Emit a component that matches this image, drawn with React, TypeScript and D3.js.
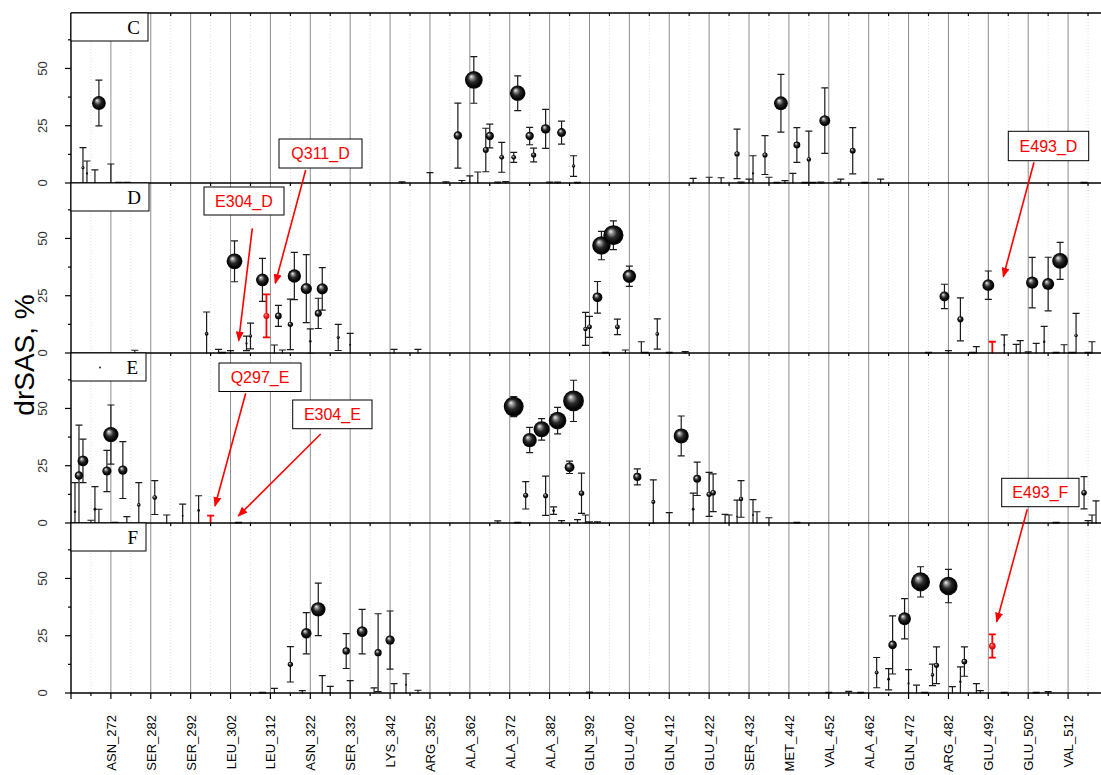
import React from "react";
import * as d3 from "d3";

const WIDTH = 1101;
const HEIGHT = 775;
const PLOT = { left: 71, right: 1100, top: 13, panelHeight: 170 };

// x axis: residue number, labelled every 10 residues
const tickResidues = [272, 282, 292, 302, 312, 322, 332, 342, 352, 362, 372, 382, 392, 402, 412, 422, 432, 442, 452, 462, 472, 482, 492, 502, 512];
const tickNames = ["ASN_272", "SER_282", "SER_292", "LEU_302", "LEU_312", "ASN_322", "SER_332", "LYS_342", "ARG_352", "ALA_362", "ALA_372", "ALA_382", "GLN_392", "GLU_402", "GLN_412", "GLU_422", "SER_432", "MET_442", "VAL_452", "ALA_462", "GLN_472", "ARG_482", "GLU_492", "GLU_502", "VAL_512"];

const chainNames = ["C", "D", "E", "F"];

// chain C
const residuesC = [265, 266, 268, 269, 272, 274, 276, 345, 352, 356, 359, 360, 362, 363, 364, 366, 367, 369, 370, 371, 373, 374, 377, 378, 381, 382, 384, 385, 388, 389, 418, 422, 425, 429, 430, 432, 433, 436, 437, 439, 440, 441, 443, 444, 446, 447, 448, 450, 451, 454, 455, 458, 461, 465, 516];
const valuesC = [6.7, 4.2, 0.3, 34.9, 0, 0, 0, 0, 0.3, 0, 20.7, 0.3, 0.5, 45, 0.5, 14.4, 20.5, 0, 11.2, 0, 11.2, 39.2, 20.5, 12.2, 23.6, 0, 0, 22, 7.4, 0, 0, 0, 0, 12.7, 0, 0, 4.2, 12.2, 0, 0, 34.8, 0, 0.3, 16.6, 0, 10.3, 0, 0, 27.2, 0, 0, 14.1, 0, 0, 0];
const errorsC = [8.7, 5.4, 5.4, 10, 8.3, 0.3, 0.3, 0.5, 4.2, 0.5, 14.2, 0.8, 2.6, 10.2, 4.3, 9.5, 5.2, 0.4, 6.5, 0.6, 2.2, 7.6, 3.8, 3, 8.5, 0.4, 0.4, 5, 4.5, 0.3, 2, 2.5, 2.3, 10.8, 0.4, 1.7, 7.7, 8.5, 2.5, 0.3, 12.6, 1, 3.9, 7.6, 0.3, 12.3, 0.3, 0.4, 14.3, 0.4, 1.7, 10.1, 0.3, 1.7, 0.3];

// chain D
const residuesD = [278, 296, 299, 300, 302, 303, 306, 307, 310, 313, 314, 315, 317, 318, 321, 322, 324, 325, 329, 332, 343, 349, 391, 392, 394, 395, 396, 398, 399, 401, 402, 405, 406, 409, 412, 416, 477, 481, 482, 485, 488, 489, 492, 496, 499, 500, 502, 503, 504, 506, 507, 509, 510, 511, 513, 514, 517, 518];
const valuesD = [0, 8.4, 0, 0, 0, 40, 4.2, 7.4, 31.9, 0, 16.2, 0, 12.5, 33.6, 28.1, 5.1, 17.3, 28, 6.8, 3.6, 0, 0, 10.5, 11.4, 24.3, 46.9, 0, 51.4, 11.4, 0, 33.5, 0.5, 0, 8.3, 0, 0, 0, 24.7, 0, 14.7, 0, 0, 29.6, 3.5, 0, 0, 0, 30.7, 0, 4.9, 30.1, 0, 40.2, 0, 0, 7.6, 0, 0];
const errorsD = [1.2, 9.5, 1.6, 0.3, 1, 8.9, 3.2, 5.6, 9.4, 3.5, 4.6, 1.3, 11, 10.3, 14.8, 5.4, 6.6, 9.3, 5.7, 5, 1.6, 1.6, 7.2, 4.6, 6.9, 6.2, 0.3, 6.3, 3.4, 1.3, 4.4, 4.4, 0.3, 6.6, 0.3, 0.6, 0.3, 5.3, 1, 9.4, 0.3, 2.8, 6.2, 4.4, 3.8, 5.4, 0.5, 11, 4.2, 6.7, 11.7, 0.3, 8.1, 3.6, 0.3, 9.7, 0.3, 4.9];

// chain E
const residuesE = [263, 264, 265, 267, 268, 269, 271, 272, 273, 275, 276, 279, 283, 286, 290, 294, 304, 369, 373, 374, 376, 377, 380, 381, 383, 384, 385, 387, 388, 389, 390, 391, 392, 394, 404, 408, 412, 415, 418, 419, 422, 423, 426, 427, 429, 430, 433, 434, 437, 444, 509, 516, 517, 518, 519];
const valuesE = [4.9, 20.7, 27.1, 0, 6, 0, 22.7, 38.6, 0, 23.1, 0, 7.9, 11.1, 0, 3.2, 5.5, 0, 0, 50.8, 0, 12.1, 36.2, 40.9, 11.9, 5.4, 44.7, 0, 24.3, 53.3, 0, 13, 0, 0, 0, 20.1, 9.2, 0, 38, 6, 19.3, 12.5, 13.2, 0, 0, 2.8, 10.5, 3.5, 0, 0, 0, 0, 13.2, 0, 0, 0];
const errorsE = [12.7, 22, 9.5, 1.2, 9.9, 6, 9, 12.9, 0.3, 12.4, 2.8, 9.7, 7.4, 3.5, 5, 6.4, 0.3, 0.9, 4.4, 0.3, 6, 5.5, 4.7, 8.6, 1.6, 5.8, 1, 2.7, 9, 1.5, 8.8, 3.5, 0.5, 0.5, 3.5, 9.6, 4.5, 8.7, 7, 7.3, 9.6, 8.2, 3.8, 3.5, 7.2, 8, 6.7, 4.9, 2.3, 0.3, 0.3, 7, 1, 3.5, 9.7];

// chain F
const residuesF = [310, 313, 317, 320, 321, 324, 325, 327, 331, 332, 335, 338, 339, 342, 343, 346, 349, 392, 452, 457, 460, 464, 467, 468, 471, 472, 474, 475, 476, 478, 479, 482, 483, 485, 486, 489, 490, 496, 504, 507];
const valuesF = [0, 0, 12.5, 0, 26.1, 36.5, 0, 0, 18.3, 0, 26.8, 0, 17.6, 23.1, 0, 3.6, 0, 0, 0, 0, 0, 8.9, 6, 21, 32.4, 4.2, 0, 48.5, 0, 7.9, 12.1, 46.7, 0, 4.9, 13.7, 0, 0, 0, 0, 0];
const errorsF = [0.3, 2, 7.7, 1, 9, 11.5, 7.6, 2.9, 7.6, 5.4, 9.7, 2.2, 17, 12.7, 4.1, 4.8, 1.2, 0.4, 0.3, 0.7, 0.3, 6.6, 4.6, 12.7, 8.8, 6, 3.4, 6.6, 0.3, 4.7, 8, 7.3, 2.8, 6.5, 6.4, 4.1, 1, 0.3, 0.3, 0.6];

// highlighted residues (red)
const redChains = ["D", "D", "E", "F"];
const redResidues = [311, 493, 297, 493];
const redValues = [16.2, 0, 0, 20.5];
const redErrors = [9.4, 4.9, 3.2, 5.1];

// callouts
const calloutLabels = ["Q311_D", "E304_D", "Q297_E", "E304_E", "E493_D", "E493_F"];

// layout of callouts: box [x, y, w, h], arrow [x1, y1, x2, y2]
const CALLOUT_LAYOUT = [
  { box: [279, 139, 83, 29], arrow: [305.7, 170, 275.3, 283.3] },
  { box: [204, 187, 80, 28], arrow: [252.3, 228.3, 238.7, 340.7] },
  { box: [219, 363, 82, 28.5], arrow: [245.7, 393.3, 215, 506] },
  { box: [292.7, 400, 79.3, 28.7], arrow: [320.7, 434, 238.3, 516] },
  { box: [1008.3, 131.3, 80.4, 29.4], arrow: [1034, 162.3, 1003.3, 276.7] },
  { box: [1001.7, 478.3, 77.3, 28.4], arrow: [1027.3, 509.3, 996.7, 621.7] },
];
const LABEL_BOX_WIDTHS = [77, 78, 75, 75];

const panelData = [
  { res: residuesC, val: valuesC, err: errorsC },
  { res: residuesD, val: valuesD, err: errorsD },
  { res: residuesE, val: valuesE, err: errorsE },
  { res: residuesF, val: valuesF, err: errorsF },
];

export default function App() {
  const xScale = d3.scaleLinear().domain([262, 520]).range([PLOT.left, PLOT.right]);
  const rScale = d3.scaleLinear().domain([0, 50]).range([0.3, 9.8]);
  const majorTicks = d3.range(262, 520, 10);
  const minorTicks = d3.range(267, 520, 10);
  const bottom = PLOT.top + PLOT.panelHeight * 4;

  const panelTop = (i: number) => PLOT.top + i * PLOT.panelHeight;
  const yScaleFor = (i: number) =>
    d3.scaleLinear().domain([0, 74.2]).range([panelTop(i) + PLOT.panelHeight, panelTop(i)]);

  const errorBar = (x: number, y: (v: number) => number, v: number, e: number, color: string, width: number, key: string) => (
    <g key={key} stroke={color} strokeWidth={width}>
      <line x1={x} x2={x} y1={y(v - e)} y2={y(v + e)} />
      <line x1={x - 3.5} x2={x + 3.5} y1={y(v + e)} y2={y(v + e)} />
      <line x1={x - 3.5} x2={x + 3.5} y1={y(v - e)} y2={y(v - e)} />
    </g>
  );

  return (
    <svg width={WIDTH} height={HEIGHT} style={{ position: "absolute", left: 0, top: 0, background: "#fff" }} fontFamily="Arial, 'Liberation Sans', sans-serif">
      <defs>
        <radialGradient id="ball" cx="0.5" cy="0.5" r="0.55" fx="0.35" fy="0.3">
          <stop offset="0" stopColor="#f4f4f4" />
          <stop offset="0.18" stopColor="#9a9a9a" />
          <stop offset="0.45" stopColor="#2a2a2a" />
          <stop offset="0.8" stopColor="#000" />
          <stop offset="1" stopColor="#222" />
        </radialGradient>
        <radialGradient id="ballRed" cx="0.5" cy="0.5" r="0.55" fx="0.35" fy="0.3">
          <stop offset="0" stopColor="#ffd0d0" />
          <stop offset="0.3" stopColor="#ff4040" />
          <stop offset="0.8" stopColor="#e00000" />
          <stop offset="1" stopColor="#c00000" />
        </radialGradient>
        <marker id="arrowHead" markerWidth="10" markerHeight="8" refX="9" refY="4" orient="auto" markerUnits="userSpaceOnUse">
          <path d="M0,0 L10,4 L0,8 Z" fill="#ff0000" />
        </marker>
        {chainNames.map((c, i) => (
          <clipPath id={`clip${c}`} key={c}>
            <rect x={PLOT.left} y={panelTop(i)} width={PLOT.right - PLOT.left + 1} height={PLOT.panelHeight + 0.5} />
          </clipPath>
        ))}
      </defs>

      {/* grid */}
      {minorTicks.map((t) => (
        <line key={`mg${t}`} x1={xScale(t)} x2={xScale(t)} y1={PLOT.top} y2={bottom} stroke="#dedede" strokeDasharray="1,2" />
      ))}
      {majorTicks.map((t) => (
        <line key={`Mg${t}`} x1={xScale(t)} x2={xScale(t)} y1={PLOT.top} y2={bottom} stroke="#8c8c8c" strokeWidth={1} />
      ))}

      {/* panels */}
      {chainNames.map((c, i) => {
        const y = yScaleFor(i);
        const d = panelData[i];
        const reds = redChains.map((rc, k) => (rc === c ? k : -1)).filter((k) => k >= 0);
        return (
          <g key={c}>
            <g clipPath={`url(#clip${c})`}>
              {d.res.map((r, k) => errorBar(xScale(r), y, d.val[k], d.err[k], "#1a1a1a", 1.2, `e${k}`))}
              {d.res.map((r, k) => (
                <circle key={`p${k}`} cx={xScale(r)} cy={y(d.val[k])} r={rScale(d.val[k])} fill={d.val[k] > 6 ? "url(#ball)" : "#111"} />
              ))}
              {reds.map((k) => errorBar(xScale(redResidues[k]), y, redValues[k], redErrors[k], "#ff0000", 1.8, `re${k}`))}
              {reds.map((k) =>
                redValues[k] > 0 ? (
                  <circle key={`rp${k}`} cx={xScale(redResidues[k])} cy={y(redValues[k])} r={Math.max(3, rScale(redValues[k]) * 0.8)} fill="url(#ballRed)" />
                ) : null
              )}
            </g>
            {/* y axis */}
            <line x1={PLOT.left} x2={PLOT.left} y1={panelTop(i)} y2={panelTop(i) + PLOT.panelHeight} stroke="#000" strokeWidth={1.3} />
            {[0, 25, 50].map((t) => (
              <g key={`yt${t}`}>
                <line x1={PLOT.left - 6} x2={PLOT.left} y1={y(t)} y2={y(t)} stroke="#000" strokeWidth={1.2} />
                <text transform={`translate(47,${y(t)}) rotate(-90)`} textAnchor="middle" fontSize={13} fill="#333">
                  {t}
                </text>
              </g>
            ))}
            {[12.5, 37.5, 62.5].map((t) => (
              <line key={`ym${t}`} x1={PLOT.left - 3} x2={PLOT.left} y1={y(t)} y2={y(t)} stroke="#000" strokeWidth={1.2} />
            ))}
            {/* top edge with inward ticks */}
            <line x1={PLOT.left} x2={WIDTH} y1={panelTop(i)} y2={panelTop(i)} stroke="#000" strokeWidth={1.3} />
            {minorTicks.map((t) => (
              <line key={`tt${t}`} x1={xScale(t)} x2={xScale(t)} y1={panelTop(i)} y2={panelTop(i) + 3} stroke="#000" strokeWidth={1.2} />
            ))}
            {/* label box */}
            <rect x={PLOT.left} y={panelTop(i)} width={LABEL_BOX_WIDTHS[i]} height={28} fill="#fff" stroke="#000" strokeWidth={1} />
            <text x={PLOT.left + LABEL_BOX_WIDTHS[i] - 8} y={panelTop(i) + 21} textAnchor="end" fontSize={19} fontFamily="'Liberation Serif', 'DejaVu Serif', serif">
              {c}
            </text>
            {c === "E" ? <circle cx={100} cy={panelTop(i) + 14.5} r={0.9} fill="#111" /> : null}
          </g>
        );
      })}

      {/* bottom axis */}
      <line x1={PLOT.left} x2={WIDTH} y1={bottom} y2={bottom} stroke="#000" strokeWidth={1.3} />
      {majorTicks.map((t) => (
        <line key={`bt${t}`} x1={xScale(t)} x2={xScale(t)} y1={bottom} y2={bottom + 6} stroke="#000" strokeWidth={1.2} />
      ))}
      {minorTicks.map((t) => (
        <line key={`bm${t}`} x1={xScale(t)} x2={xScale(t)} y1={bottom} y2={bottom + 3} stroke="#000" strokeWidth={1.2} />
      ))}
      {tickResidues.map((t, k) => (
        <text key={`xl${t}`} transform={`translate(${xScale(t) + 5},${bottom + 22}) rotate(-90)`} textAnchor="end" fontSize={13} fill="#000">
          {tickNames[k]}
        </text>
      ))}

      {/* y title */}
      <text transform="translate(34,355) rotate(-90)" textAnchor="middle" fontSize={28} fill="#000">
        drSAS, %
      </text>

      {/* callouts */}
      {calloutLabels.map((lab, k) => {
        const { box, arrow } = CALLOUT_LAYOUT[k];
        return (
          <g key={lab}>
            <line x1={arrow[0]} y1={arrow[1]} x2={arrow[2]} y2={arrow[3]} stroke="#ff0000" strokeWidth={1.6} markerEnd="url(#arrowHead)" />
            <rect x={box[0]} y={box[1]} width={box[2]} height={box[3]} fill="#fff" stroke="#000" strokeWidth={1} />
            <text x={box[0] + box[2] / 2} y={box[1] + box[3] / 2 + 5.5} textAnchor="middle" fontSize={16} fill="#ff0000">
              {lab}
            </text>
          </g>
        );
      })}
    </svg>
  );
}
